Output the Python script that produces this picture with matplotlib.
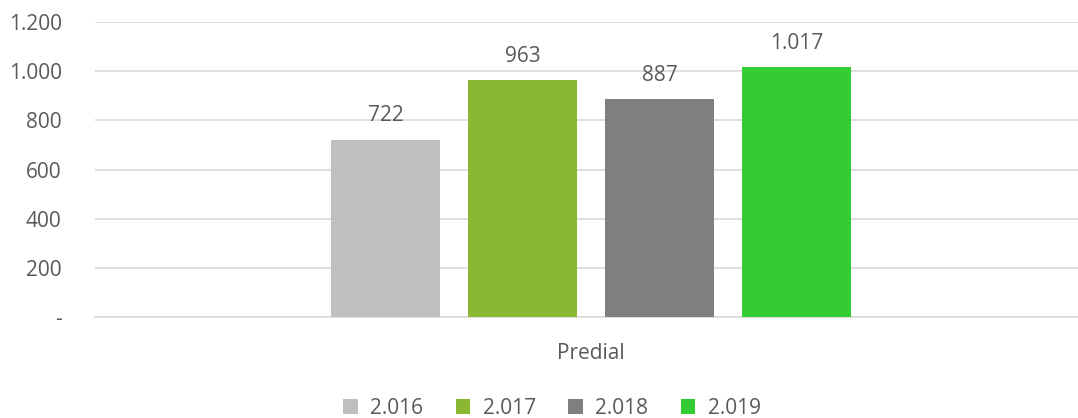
import matplotlib
matplotlib.use("Agg")
import matplotlib.pyplot as plt
from matplotlib.patches import Patch
import numpy as np

category = "Predial"
years = ["2.016", "2.017", "2.018", "2.019"]
values = [722, 963, 887, 1017]
labels = ["722", "963", "887", "1.017"]
y_ticks = [0, 200, 400, 600, 800, 1000, 1200]
y_ticklabels = ["-", "200", "400", "600", "800", "1.000", "1.200"]

COLORS = ["#bfbfbf", "#8bb833", "#7f7f7f", "#33cc33"]
TEXT_COLOR = "#595959"
GRID_COLOR = "#d9d9d9"
FS = 15

plt.rcParams["font.family"] = ["Open Sans", "DejaVu Sans"]

W, H = 1078, 418
fig = plt.figure(figsize=(W / 100, H / 100), dpi=100)
ax = fig.add_axes([95 / W, 101 / H, (1078 - 95) / W, (317 - 22) / H])

bar_w = 109 / 983
step = 137 / 983
shift = 4.5 / 983
offsets = (np.arange(len(values)) - 1.5) * step + shift
for off, v, c, lab in zip(offsets, values, COLORS, labels):
    ax.bar(off, v, width=bar_w, color=c, zorder=3)
    ax.text(off, v + 54, lab, ha="center", va="bottom", fontsize=FS, color=TEXT_COLOR)

ax.set_xlim(-0.5, 0.5)
ax.set_ylim(0, 1200)
ax.set_yticks(y_ticks)
ax.set_yticklabels(y_ticklabels, fontsize=FS, color=TEXT_COLOR)
ax.set_xticks([shift])
ax.set_xticklabels([category], fontsize=FS, color=TEXT_COLOR)
ax.tick_params(axis="both", length=0)
ax.tick_params(axis="y", pad=24)
ax.tick_params(axis="x", pad=19)
ax.grid(axis="y", color=GRID_COLOR, linewidth=1.2, zorder=0)
for s in ["left", "right", "top"]:
    ax.spines[s].set_visible(False)
ax.spines["bottom"].set_color(GRID_COLOR)
ax.spines["bottom"].set_linewidth(1.2)

handles = [Patch(facecolor=c, label=y) for c, y in zip(COLORS, years)]
fig.legend(handles=handles, loc="center", bbox_to_anchor=(552 / W, 1 - 408 / H), ncol=4,
           frameon=False, fontsize=FS, handlelength=0.7, handleheight=0.7,
           handletextpad=0.6, columnspacing=1.55, labelcolor=TEXT_COLOR)

fig.savefig("out.png", dpi=100)
